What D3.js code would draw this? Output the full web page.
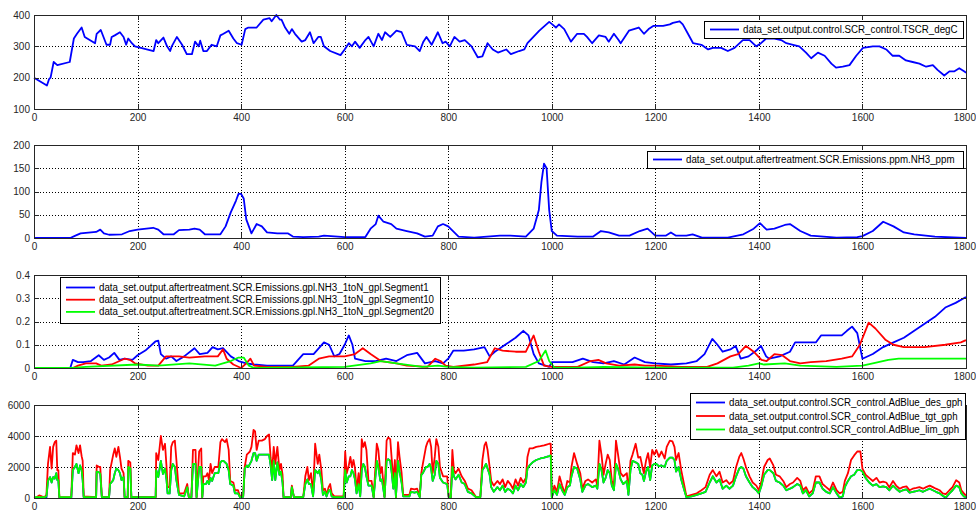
<!DOCTYPE html>
<html><head><meta charset="utf-8">
<script src="https://cdn.jsdelivr.net/npm/d3@7"></script>
<style>
body{margin:0;background:#fff}
svg{display:block}
text{font-family:"Liberation Sans",Arial,sans-serif}
</style>
</head><body>
<svg id="fig" width="976" height="513"></svg>
<script>
// ---- shared time axis ----
const timeTicks = [0, 200, 400, 600, 800, 1000, 1200, 1400, 1600, 1800];

// ---- panel 1: SCR temperature [degC] ----
const tscrLabel = "data_set.output.control.SCR_control.TSCR_degC";
const tscrTicks = [100, 200, 300, 400];
const tscrTime = [0,25,29,32,38,45,69,77,83,92,98,118,121,129,140,147,150,156,166,173,178,182,189,195,231,236,240,250,257,263,266,276,286,295,305,311,318,321,327,334,343,353,360,366,376,385,392,401,408,414,430,443,455,459,468,475,478,485,493,498,504,517,524,533,540,549,554,560,572,592,600,608,614,620,629,640,646,656,665,672,678,688,700,710,720,736,745,752,758,768,780,789,795,803,812,822,832,845,857,866,876,886,896,912,921,937,947,953,976,995,1001,1008,1014,1024,1037,1049,1062,1068,1078,1091,1104,1110,1120,1129,1133,1149,1168,1178,1187,1196,1215,1228,1234,1247,1253,1263,1273,1289,1302,1311,1327,1340,1353,1369,1382,1395,1404,1414,1430,1443,1453,1466,1478,1491,1501,1514,1527,1540,1549,1562,1575,1588,1601,1620,1633,1646,1658,1671,1684,1697,1710,1723,1736,1745,1758,1768,1777,1787,1797,1800];
const tscrVal = [200,175,195,200,250,240,250,325,340,360,330,310,340,352,305,305,330,335,345,330,305,325,310,300,285,320,310,328,300,285,300,330,305,275,275,315,300,318,285,285,305,300,335,340,350,325,310,305,355,360,360,385,390,380,400,385,385,360,340,355,340,315,320,345,310,330,330,300,285,272,290,310,300,315,295,320,330,300,340,320,345,330,350,345,305,300,285,315,330,305,345,310,315,300,330,315,320,300,265,268,310,290,280,290,275,285,290,310,350,378,370,360,370,355,315,340,340,330,310,335,330,315,340,320,310,350,360,340,355,365,365,370,375,380,370,340,310,305,290,295,295,285,295,320,320,300,310,325,325,320,310,305,300,280,262,280,270,245,232,235,240,270,295,300,300,290,270,270,255,250,245,235,240,225,207,220,220,230,220,215];

// ---- panel 2: NH3 slip [ppm] ----
const nh3Label = "data_set.output.aftertreatment.SCR.Emissions.ppm.NH3_ppm";
const nh3Ticks = [0, 50, 100, 150, 200];
const nh3Time = [0,70,80,90,110,120,128,135,145,170,185,200,230,240,250,270,280,300,310,320,330,360,370,380,390,395,400,405,410,420,430,440,450,470,490,500,520,550,560,600,630,640,650,660,665,675,690,700,720,740,755,770,780,790,800,820,850,900,920,950,965,975,980,985,990,995,1000,1010,1050,1080,1095,1110,1130,1150,1170,1185,1200,1220,1230,1240,1260,1272,1290,1340,1370,1390,1402,1415,1430,1450,1460,1480,1500,1550,1590,1600,1620,1640,1660,1680,1700,1740,1800];
const nh3Val = [0,0,5,10,12,13,18,10,7,8,15,18,22,18,8,8,17,18,20,18,8,8,25,55,80,95,95,85,40,10,30,25,12,10,10,3,2,3,5,2,2,2,20,30,48,35,30,20,15,10,3,5,25,30,25,3,1,5,5,3,20,60,120,160,150,60,15,5,3,3,15,12,5,5,15,20,5,5,12,5,5,8,1,1,8,20,32,18,20,28,30,15,5,1,2,4,15,35,25,12,8,3,0];

// ---- panel 3: NH3 storage per segment [g/l] ----
const segLabels = [
  "data_set.output.aftertreatment.SCR.Emissions.gpl.NH3_1toN_gpl.Segment1",
  "data_set.output.aftertreatment.SCR.Emissions.gpl.NH3_1toN_gpl.Segment10",
  "data_set.output.aftertreatment.SCR.Emissions.gpl.NH3_1toN_gpl.Segment20"
];
const segTicks = [0, 0.1, 0.2, 0.3, 0.4];
const seg1Time = [0,70,75,85,95,110,125,135,145,155,165,175,190,200,215,235,240,245,255,265,275,290,310,320,335,345,355,365,380,395,410,425,450,500,520,540,560,570,580,590,600,608,615,620,640,660,680,700,720,740,755,775,790,800,810,830,850,870,880,890,910,930,945,955,965,975,995,1000,1020,1040,1060,1080,1100,1120,1140,1160,1180,1200,1230,1260,1280,1295,1310,1320,1330,1345,1355,1365,1380,1395,1404,1414,1420,1440,1460,1470,1490,1510,1520,1540,1560,1570,1580,1590,1600,1620,1640,1660,1680,1700,1720,1740,1760,1780,1800];
const seg1Val = [0,0,0.035,0.025,0.025,0.03,0.055,0.035,0.045,0.065,0.035,0.04,0.035,0.055,0.075,0.115,0.118,0.06,0.04,0.05,0.03,0.05,0.085,0.06,0.065,0.09,0.08,0.085,0.05,0.03,0.02,0.015,0.01,0.01,0.06,0.06,0.11,0.1,0.05,0.06,0.1,0.14,0.1,0.04,0.03,0.03,0.04,0.03,0.055,0.065,0.02,0.03,0.02,0.04,0.075,0.075,0.08,0.09,0.05,0.07,0.1,0.13,0.16,0.14,0.06,0.02,0.005,0.025,0.025,0.025,0.04,0.025,0.02,0.03,0.015,0.045,0.025,0.02,0.015,0.02,0.03,0.06,0.125,0.1,0.07,0.08,0.095,0.04,0.05,0.075,0.095,0.05,0.04,0.05,0.07,0.11,0.11,0.11,0.14,0.14,0.14,0.16,0.178,0.15,0.04,0.06,0.09,0.11,0.13,0.16,0.19,0.22,0.26,0.28,0.305];
const seg10Time = [0,75,85,100,120,130,150,175,185,195,220,240,255,280,300,330,355,365,372,385,400,410,418,425,450,500,530,550,570,600,620,635,650,670,700,720,760,775,785,795,810,850,875,890,905,930,950,965,975,985,1000,1050,1075,1090,1105,1130,1160,1180,1200,1250,1300,1320,1345,1360,1375,1390,1405,1415,1430,1445,1460,1480,1500,1530,1560,1580,1595,1612,1625,1645,1660,1680,1720,1760,1790,1800];
const seg10Val = [0,0,0.01,0.02,0.02,0.01,0.015,0.04,0.035,0.02,0.01,0.01,0.05,0.05,0.045,0.05,0.05,0.08,0.04,0.015,0,0.02,0.04,0.01,0.005,0.005,0.01,0.04,0.05,0.05,0.06,0.085,0.06,0.03,0.02,0.01,0.005,0.04,0.03,0.01,0.005,0.015,0.025,0.085,0.075,0.07,0.07,0.14,0.07,0.01,0.005,0.005,0.03,0.035,0.02,0.01,0.015,0.01,0.01,0.005,0.005,0.02,0.05,0.06,0.095,0.07,0.035,0.03,0.06,0.055,0.03,0.02,0.025,0.03,0.04,0.05,0.1,0.195,0.17,0.12,0.1,0.09,0.09,0.1,0.11,0.12];
const seg20Time = [0,75,100,200,240,300,350,380,395,405,415,425,600,650,670,700,750,780,800,850,950,975,988,995,1005,1050,1100,1200,1350,1380,1400,1410,1450,1480,1550,1600,1620,1650,1670,1700,1800];
const seg20Val = [0,0,0.005,0.015,0.01,0.02,0.01,0.03,0.045,0.045,0.01,0,0.005,0.02,0.03,0.02,0.005,0.01,0.005,0.002,0.005,0.03,0.075,0.03,0.002,0.001,0.005,0.002,0.002,0.01,0.02,0.015,0.02,0.01,0.005,0.01,0.02,0.035,0.04,0.04,0.04];

// ---- panel 4: AdBlue dosing [g/h] ----
const adLabels = [
  "data_set.output.control.SCR_control.AdBlue_des_gph",
  "data_set.output.control.SCR_control.AdBlue_tgt_gph",
  "data_set.output.control.SCR_control.AdBlue_lim_gph"
];
const adTicks = [0, 2000, 4000, 6000];
const adTime = [0,5,10,15,20,24,27,31,34,37,40,43,45,47,49,60,72,75,79,82,86,89,92,94,96,120,121,126,128,131,145,147,153,156,159,163,166,169,173,175,181,182,186,188,235,236,240,245,249,253,256,258,262,265,268,272,275,280,290,296,299,304,307,312,314,319,323,325,327,332,335,338,341,344,349,356,360,363,366,369,372,376,379,385,388,394,398,404,407,411,414,417,420,424,427,430,434,440,446,450,454,457,460,463,466,470,474,477,480,482,496,498,502,520,524,528,531,535,539,543,548,551,555,558,562,565,569,572,575,580,598,601,604,608,611,614,617,620,623,627,630,633,636,639,642,646,652,656,662,665,669,672,677,681,684,688,691,694,697,699,703,706,710,713,725,728,735,740,745,748,751,757,760,764,767,770,774,777,781,784,790,798,801,805,808,811,814,820,826,832,838,845,854,862,866,870,873,876,880,883,888,895,900,905,910,915,920,925,930,935,940,945,950,953,957,963,970,978,985,990,995,998,1000,1005,1010,1015,1020,1025,1030,1035,1038,1043,1049,1055,1059,1065,1070,1078,1085,1088,1092,1096,1100,1104,1108,1112,1116,1120,1124,1128,1133,1138,1145,1148,1152,1156,1162,1167,1171,1175,1178,1182,1186,1190,1194,1198,1202,1207,1212,1218,1222,1228,1233,1237,1240,1245,1250,1256,1260,1270,1280,1289,1297,1305,1311,1318,1324,1330,1337,1343,1350,1356,1362,1366,1370,1375,1382,1388,1395,1400,1405,1410,1417,1421,1428,1433,1440,1447,1453,1460,1466,1474,1480,1485,1491,1497,1504,1510,1517,1523,1530,1537,1543,1550,1556,1562,1566,1572,1578,1584,1590,1596,1600,1606,1613,1620,1627,1633,1640,1646,1652,1659,1665,1672,1678,1685,1691,1697,1704,1710,1717,1723,1730,1736,1742,1749,1755,1761,1768,1774,1781,1787,1791,1796,1800];
const adTgt = [0,50,170,100,50,200,2200,3300,1900,3300,3600,3700,1800,1800,50,50,50,2900,2800,3400,2900,3400,2700,2400,100,50,2100,2000,2000,50,50,1800,2800,3200,2650,3300,2650,1900,1600,50,50,2400,2300,50,60,2900,2450,4000,3100,3500,2000,700,700,3300,3600,3700,2450,300,300,900,50,50,3100,3100,50,3000,3200,50,1400,1400,1600,1150,2200,1600,2000,2000,3600,3800,3700,3600,3800,3100,1100,1000,500,500,100,100,2000,2800,2900,3000,3300,4400,4300,3100,3700,3700,3800,4000,4100,2600,1800,3300,2200,3300,1800,2200,1500,50,50,800,50,50,1400,2000,1150,1600,200,3500,2200,2800,1800,500,600,200,700,900,300,100,100,3000,1600,2100,2650,2000,2450,1900,500,1600,300,3800,3300,3600,3100,1100,1100,50,3500,3100,1600,2000,50,3700,3900,3800,2450,1100,2450,50,3600,2650,1600,200,200,600,550,600,100,1600,2200,3300,3600,3800,3300,1600,2650,3800,3300,2000,1400,1400,50,50,3100,1800,1600,1900,1400,1100,600,500,50,50,2450,3400,3600,3100,2000,1100,800,1100,900,1200,700,1100,900,600,1200,800,1300,1000,1300,2650,3200,3200,3300,3350,3400,3450,3500,3500,100,800,400,1400,800,300,1100,1000,2000,2900,2200,1600,600,1100,1200,1000,1200,800,3700,2800,1500,2200,2800,2450,1100,800,3700,2800,1600,1400,1600,400,2400,2800,3500,2600,2650,2000,1600,2400,2900,2000,3100,2800,3100,2650,3000,2550,3300,3700,3650,3300,2450,2900,1800,800,100,200,300,500,700,1500,1800,1400,1700,1000,1150,900,1100,2000,2650,2900,2550,2000,1400,1000,800,500,1100,2000,2450,2550,2100,1500,1400,1100,700,900,1000,1300,1100,500,700,300,500,1400,1400,900,700,500,1000,500,300,400,1100,1600,2450,2750,3000,3000,1900,1500,1300,1100,1300,1000,1050,1000,700,1100,800,600,700,750,500,600,650,700,600,700,800,700,600,500,300,250,500,700,1150,1000,500,300,150];
const adLim = [50,50,60,50,50,100,1100,1350,1000,1350,1250,1600,1150,1150,50,50,50,1800,2000,2200,1600,2100,1800,1150,50,50,1700,1650,1550,50,50,900,1150,1600,1900,1800,1600,1150,1350,50,50,2000,1900,50,60,1800,1350,2400,1550,1900,1150,300,300,1800,2200,2000,1150,200,100,700,50,50,2200,2200,50,2000,2000,50,900,900,1100,900,1300,1100,1600,1600,2300,2400,2400,2300,2200,1800,900,800,300,300,50,80,1900,2100,2000,2200,2400,2900,2900,2400,2800,2800,2800,2800,2800,2100,1150,2400,1150,2300,1500,1700,1000,50,50,700,50,50,900,1200,900,900,100,1800,1600,1800,1150,200,400,100,500,500,100,50,50,1800,1000,1400,1400,1800,1600,1200,300,900,100,1800,2200,2000,1400,800,800,50,2400,2000,1100,1200,50,2400,2500,2400,1600,600,1600,50,2400,1700,1000,100,100,400,350,400,50,1500,1600,2000,2000,2200,1900,1100,1500,2400,2200,1300,1000,900,50,50,2000,1400,1200,1500,1000,900,400,300,50,50,1800,2000,2200,1900,1500,700,400,700,500,800,400,600,500,300,800,500,900,700,1000,1900,2100,2300,2450,2550,2600,2650,2700,2750,50,500,200,900,500,200,700,800,1400,2000,1900,1200,400,800,900,700,800,600,2200,1800,1000,1300,1800,1600,800,500,2200,1900,1200,900,1100,200,1800,2400,2300,2200,1600,1500,1100,1700,2000,1150,2100,2200,2200,2050,2100,2000,2400,2600,2600,2450,1700,2000,1200,500,50,100,200,300,400,1000,1400,1000,1200,600,800,600,800,1400,1900,2000,1900,1400,1000,700,500,300,800,1500,1800,1800,1600,1100,1000,800,500,600,700,900,800,300,500,100,300,1000,1000,600,400,300,700,300,50,100,700,1100,1400,1500,1800,1800,1700,1300,1000,800,900,700,750,700,500,800,600,400,500,550,350,400,450,500,400,500,600,500,400,300,150,50,300,500,800,700,300,100,50];
const adDes = [0,0,0,0,0,0,1100,1350,1000,1350,1250,1600,1150,1150,0,0,0,1800,2000,2200,1600,2100,1800,1150,50,50,1700,1650,1550,50,50,900,1150,1600,1900,1800,1600,1150,1350,50,50,2000,1900,50,60,1800,1350,2400,1550,1900,1150,300,300,1800,2200,2000,1150,200,100,700,50,50,2200,2200,50,2000,2000,50,900,900,1100,900,1300,1100,1600,1600,2300,2400,2400,2300,2200,1800,900,800,300,300,50,80,1900,2100,2000,2200,2400,2900,2900,2400,2800,2800,2800,2800,2800,2100,1150,2400,1150,2300,1500,1700,1000,50,50,700,50,50,900,1200,900,900,100,1800,1600,1800,1150,200,400,100,500,500,100,50,50,1800,1000,1400,1400,1800,1600,1200,300,900,100,1800,2200,2000,1400,800,800,50,2400,2000,1100,1200,50,2400,2500,2400,1600,600,1600,50,2400,1700,1000,100,100,400,350,400,50,1500,1600,2000,2000,2200,1900,1100,1500,2400,2200,1300,1000,900,50,50,2000,1400,1200,1500,1000,900,400,300,50,50,1800,2000,2200,1900,1500,700,400,700,500,800,400,600,500,300,800,500,900,700,1000,1900,2100,2300,2450,2550,2600,2650,2700,2750,50,500,200,900,500,200,700,800,1400,2000,1900,1200,400,800,900,700,800,600,2200,1800,1000,1300,1800,1600,800,500,2200,1900,1200,900,1100,200,1800,2400,2300,2200,1600,1500,1100,1700,2000,1150,2100,2200,2200,2050,2100,2000,2400,2600,2600,2450,1700,2000,1200,500,50,100,200,300,400,1000,1400,1000,1200,600,800,600,800,1400,1900,2000,1900,1400,1000,700,500,300,800,1500,1800,1800,1600,1100,1000,800,500,600,700,900,800,300,500,100,300,1000,1000,600,400,300,700,300,0,100,700,1100,1400,1500,1800,1800,1700,1300,1000,800,900,700,750,700,500,800,600,400,500,550,350,400,450,500,400,500,600,500,400,300,150,0,300,500,800,700,300,100,50];

// ---- layout ----
const svg = d3.select("#fig");
const W = 976;
const X0 = 34, X1 = 966;
const x = d3.scaleLinear().domain([0, 1800]).range([X0, X1]);
const FONT = 10;
const SQUEEZE = 0.972;   // narrow glyph width of the legend face
const TICK = 5;

function fitText(sel) {
  sel.each(function () {
    const w = this.getComputedTextLength();
    d3.select(this).attr("textLength", w * SQUEEZE).attr("lengthAdjust", "spacingAndGlyphs");
  });
}

function drawPanel(p) {
  const g = svg.append("g");
  const y = d3.scaleLinear().domain(p.domain).range([p.bottom, p.top]);

  // grid
  const grid = g.append("g").attr("stroke", "#000").attr("stroke-width", 1)
    .attr("stroke-dasharray", "1,2").attr("shape-rendering", "crispEdges");
  timeTicks.slice(1, -1).forEach(t => {
    grid.append("line").attr("x1", Math.round(x(t)) + 0.5).attr("x2", Math.round(x(t)) + 0.5)
      .attr("y1", p.top).attr("y2", p.bottom);
  });
  p.ticks.slice(1, -1).forEach(v => {
    grid.append("line").attr("y1", Math.round(y(v)) + 0.5).attr("y2", Math.round(y(v)) + 0.5)
      .attr("x1", X0).attr("x2", X1);
  });

  // series
  const line = d3.line().x(d => x(d[0])).y(d => y(d[1]));
  p.series.forEach(s => {
    g.append("path").datum(s.time.map((t, i) => [t, s.values[i]]))
      .attr("fill", "none").attr("stroke", s.color).attr("stroke-width", 1.8)
      .attr("stroke-linejoin", "round").attr("d", line);
  });

  // ticks (inward, mirrored)
  const tk = g.append("g").attr("stroke", "#262626").attr("stroke-width", 1).attr("shape-rendering", "crispEdges");
  timeTicks.forEach(t => {
    const xx = Math.round(x(t)) + 0.5;
    tk.append("line").attr("x1", xx).attr("x2", xx).attr("y1", p.bottom).attr("y2", p.bottom - TICK);
    tk.append("line").attr("x1", xx).attr("x2", xx).attr("y1", p.top).attr("y2", p.top + TICK);
  });
  p.ticks.forEach(v => {
    const yy = Math.round(y(v)) + 0.5;
    tk.append("line").attr("y1", yy).attr("y2", yy).attr("x1", X0).attr("x2", X0 + TICK);
    tk.append("line").attr("y1", yy).attr("y2", yy).attr("x1", X1).attr("x2", X1 - TICK);
  });

  // frame
  g.append("rect").attr("x", X0 + 0.5).attr("y", p.top + 0.5)
    .attr("width", X1 - X0).attr("height", p.bottom - p.top)
    .attr("fill", "none").attr("stroke", "#262626").attr("stroke-width", 1)
    .attr("shape-rendering", "crispEdges");

  // tick labels via d3 axes
  const ax = g.append("g").attr("transform", `translate(0,${p.bottom})`)
    .call(d3.axisBottom(x).tickValues(timeTicks).tickSize(0).tickPadding(5).tickFormat(d3.format("d")));
  const ay = g.append("g").attr("transform", `translate(${X0},0)`)
    .call(d3.axisLeft(y).tickValues(p.ticks).tickSize(0).tickPadding(4).tickFormat(p.fmt));
  [ax, ay].forEach(a => {
    a.select(".domain").remove();
    a.selectAll("text").attr("font-size", FONT).attr("fill", "#262626")
      .attr("font-family", "'Liberation Sans', Arial, sans-serif");
  });
  // keep the last time label inside the figure edge
  ax.selectAll(".tick text").filter(d => d === 1800).each(function () {
    const w = this.getComputedTextLength();
    const over = X1 + w / 2 - (W - 0.5);
    if (over > 0) d3.select(this).attr("x", -over);
  });

  // legend
  const L = p.legend;
  const lg = g.append("g");
  lg.append("rect").attr("x", L.x + 0.5).attr("y", L.y + 0.5).attr("width", L.w).attr("height", L.h)
    .attr("fill", "#fff").attr("stroke", "#000").attr("stroke-width", 1).attr("shape-rendering", "crispEdges");
  p.series.forEach((s, i) => {
    const ry = L.row0 + i * L.rowStep;
    lg.append("line").attr("x1", L.x + 6).attr("x2", L.x + 35).attr("y1", ry).attr("y2", ry)
      .attr("stroke", s.color).attr("stroke-width", 1.8);
    lg.append("text").attr("x", L.x + 39).attr("y", ry).attr("dy", "0.35em")
      .attr("font-size", FONT).attr("fill", "#000").text(s.label).call(fitText);
  });
}

drawPanel({
  top: 15, bottom: 109, domain: [100, 400], ticks: tscrTicks, fmt: d3.format("d"),
  series: [{ time: tscrTime, values: tscrVal, color: "#0000ff", label: tscrLabel }],
  legend: { x: 704, y: 21, w: 259, h: 17, row0: 29.5, rowStep: 0 }
});
drawPanel({
  top: 145, bottom: 238, domain: [0, 200], ticks: nh3Ticks, fmt: d3.format("d"),
  series: [{ time: nh3Time, values: nh3Val, color: "#0000ff", label: nh3Label }],
  legend: { x: 647, y: 151, w: 316, h: 17, row0: 159.5, rowStep: 0 }
});
drawPanel({
  top: 275, bottom: 368, domain: [0, 0.4], ticks: segTicks, fmt: d => d === 0 ? "0" : d3.format(".1f")(d),
  series: [
    { time: seg1Time, values: seg1Val, color: "#0000ff", label: segLabels[0] },
    { time: seg10Time, values: seg10Val, color: "#ff0000", label: segLabels[1] },
    { time: seg20Time, values: seg20Val, color: "#00ff00", label: segLabels[2] }
  ],
  legend: { x: 60, y: 277, w: 380, h: 46, row0: 287.5, rowStep: 12.2 }
});
drawPanel({
  top: 405, bottom: 498, domain: [0, 6000], ticks: adTicks, fmt: d3.format("d"),
  series: [
    { time: adTime, values: adDes, color: "#0000ff", label: adLabels[0] },
    { time: adTime, values: adTgt, color: "#ff0000", label: adLabels[1] },
    { time: adTime, values: adLim, color: "#00ff00", label: adLabels[2] }
  ],
  legend: { x: 690, y: 393, w: 275, h: 46, row0: 402.5, rowStep: 13.5 }
});
</script>
</body></html>
